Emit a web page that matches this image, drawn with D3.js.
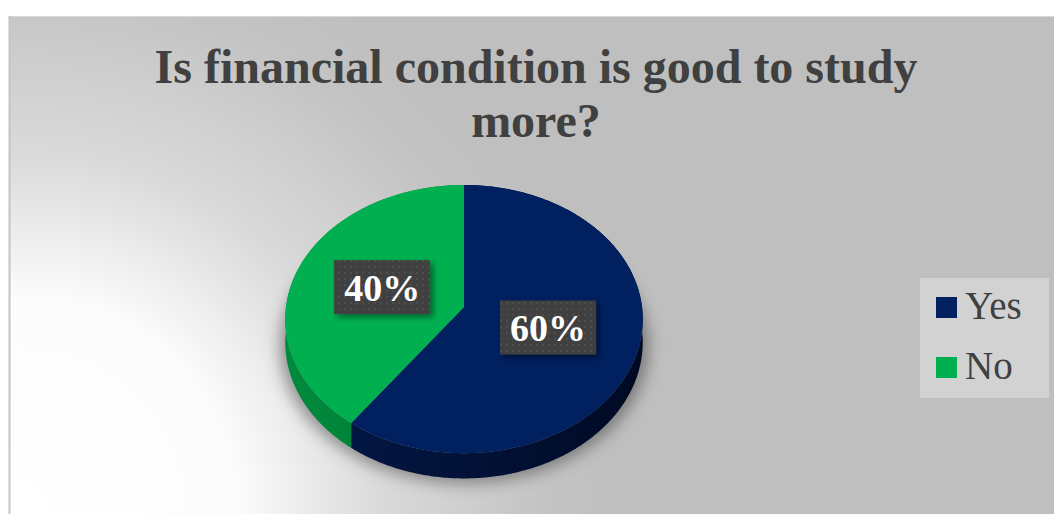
<!DOCTYPE html>
<html>
<head>
<meta charset="utf-8">
<script src="https://cdn.jsdelivr.net/npm/d3@7"></script>
<style>
  html, body { margin: 0; padding: 0; background: #ffffff; }
  svg { display: block; }
</style>
</head>
<body>
<svg id="chart" width="1054" height="514"></svg>
<script>
// Survey answers
const categories = ["Yes", "No"];
const values = [60, 40];
const labels = ["60%", "40%"];
const title = ["Is financial condition is good to study", "more?"];

const topColors = ["#002060", "#00b050"];
const sideColorsLight = ["#04194a", "#008a3d"];
const sideColorsDark = ["#000a24", "#006b2e"];

const W = 1054, H = 514;
const svg = d3.select("#chart");
const defs = svg.append("defs");

// Background: soft light corner at bottom-left fading to grey
const bg = defs.append("radialGradient").attr("id", "bg")
  .attr("gradientUnits", "userSpaceOnUse")
  .attr("cx", 20).attr("cy", 514).attr("r", 600);
bg.append("stop").attr("offset", 0).attr("stop-color", "#ffffff");
bg.append("stop").attr("offset", 0.36).attr("stop-color", "#fcfcfc");
bg.append("stop").attr("offset", 0.6).attr("stop-color", "#dadada");
bg.append("stop").attr("offset", 0.88).attr("stop-color", "#c3c3c3");
bg.append("stop").attr("offset", 1).attr("stop-color", "#bfbfbf");

svg.append("rect").attr("x", 9).attr("y", 16).attr("width", W - 9).attr("height", H - 16)
  .attr("fill", "url(#bg)");
svg.append("line").attr("x1", 9).attr("x2", W).attr("y1", 16.5).attr("y2", 16.5)
  .attr("stroke", "#d9d9d9").attr("stroke-width", 1);
svg.append("line").attr("x1", 9.5).attr("x2", 9.5).attr("y1", 16).attr("y2", H)
  .attr("stroke", "#c4c4c4").attr("stroke-width", 2);

// Title
svg.append("text")
  .attr("x", 536).attr("y", 83)
  .attr("text-anchor", "middle")
  .attr("font-family", "'Liberation Serif', 'Times New Roman', serif")
  .attr("font-weight", "bold").attr("font-size", 48)
  .attr("fill", "#404040")
  .selectAll("tspan").data(title).join("tspan")
  .attr("x", 536).attr("dy", (d, i) => i === 0 ? 0 : 54)
  .text(d => d);

// Tilted pie geometry with a mild perspective
const cx = 464, cy = 307, rx = 178, ry = 133, persp = 0.09, depth = 23;
function project(theta, r, z) {
  const u = Math.sin(theta) * r, v = -Math.cos(theta) * r;
  const s = 1 / (1 - persp * v);
  return [cx + rx * u * s, cy + ry * v * s + z * s];
}
function arcPoints(a0, a1, z) {
  const n = Math.max(4, Math.ceil((a1 - a0) / 0.01));
  return d3.range(n + 1).map(i => project(a0 + (a1 - a0) * i / n, 1, z));
}

const pie = d3.pie().sort(null).value(d => d)(values);
const line = d3.line();

// Drop shadow under the pie
const sh = defs.append("filter").attr("id", "pieShadow")
  .attr("x", "-20%").attr("y", "-20%").attr("width", "140%").attr("height", "140%");
sh.append("feGaussianBlur").attr("stdDeviation", 8);
svg.append("path")
  .attr("d", line(arcPoints(0, 2 * Math.PI, depth + 4).map(p => [p[0] + (p[0] - cx) * 0.03, p[1]])) + "Z")
  .attr("fill", "rgba(0,0,0,0.38)")
  .attr("filter", "url(#pieShadow)");

// Side walls
pie.forEach((d, i) => {
  const g = defs.append("linearGradient").attr("id", "side" + i)
    .attr("gradientUnits", "userSpaceOnUse")
    .attr("x1", cx - rx).attr("x2", cx + rx).attr("y1", 0).attr("y2", 0);
  g.append("stop").attr("offset", 0).attr("stop-color", sideColorsLight[i]);
  g.append("stop").attr("offset", 1).attr("stop-color", sideColorsDark[i]);
  const top = arcPoints(d.startAngle, d.endAngle, 0);
  const bottom = arcPoints(d.startAngle, d.endAngle, depth).reverse();
  svg.append("path").attr("d", line(top.concat(bottom)) + "Z")
    .attr("fill", `url(#side${i})`);
});

// Top faces
pie.forEach((d, i) => {
  const pts = [project(0, 0, 0)].concat(arcPoints(d.startAngle, d.endAngle, 0));
  svg.append("path").attr("d", line(pts) + "Z")
    .attr("fill", topColors[i]);
});

// Data labels on dark textured boxes
const pat = defs.append("pattern").attr("id", "dots")
  .attr("patternUnits", "userSpaceOnUse").attr("width", 6).attr("height", 6);
pat.append("rect").attr("width", 6).attr("height", 6).attr("fill", "#404040");
pat.append("circle").attr("cx", 3).attr("cy", 3).attr("r", 0.9).attr("fill", "#555555");
const boxShadow = defs.append("filter").attr("id", "boxShadow")
  .attr("x", "-30%").attr("y", "-30%").attr("width", "160%").attr("height", "160%");
boxShadow.append("feDropShadow").attr("dx", 3).attr("dy", 3).attr("stdDeviation", 3)
  .attr("flood-color", "#000").attr("flood-opacity", 0.45);

pie.forEach((d, i) => {
  const mid = (d.startAngle + d.endAngle) / 2;
  const [lx, ly] = project(mid, 0.49, 0);
  const g = svg.append("g");
  const box = g.append("rect").attr("fill", "url(#dots)").attr("filter", "url(#boxShadow)");
  const t = g.append("text")
    .attr("x", lx).attr("y", ly + 14)
    .attr("text-anchor", "middle")
    .attr("font-family", "'Liberation Serif', 'Times New Roman', serif")
    .attr("font-weight", "bold").attr("font-size", 38)
    .attr("fill", "#ffffff")
    .text(labels[i]);
  const bw = t.node().getComputedTextLength() + 20, bh = 54;
  box.attr("x", lx - bw / 2).attr("y", ly - bh / 2).attr("width", bw).attr("height", bh);
});

// Legend
const legend = svg.append("g");
legend.append("rect").attr("x", 920).attr("y", 278).attr("width", 129).attr("height", 120)
  .attr("fill", "#d2d2d2");
const items = legend.selectAll("g.item").data(categories).join("g")
  .attr("transform", (d, i) => `translate(936, ${297 + i * 60})`);
items.append("rect").attr("width", 21).attr("height", 21)
  .attr("fill", (d, i) => topColors[i]);
items.append("text").attr("x", 29).attr("y", 22)
  .attr("font-family", "'Liberation Serif', 'Times New Roman', serif")
  .attr("font-size", 39).attr("fill", "#404040")
  .text(d => d);
</script>
</body>
</html>
